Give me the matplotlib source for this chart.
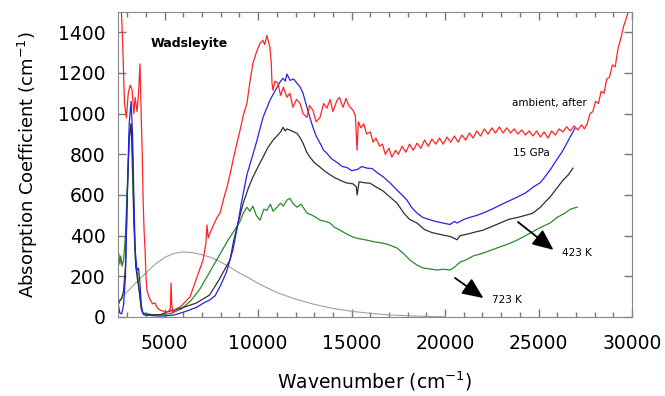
import matplotlib
matplotlib.use("Agg")
import matplotlib.pyplot as plt
from matplotlib.ticker import MultipleLocator

# %% data (wavenumber in cm-1, absorption in cm-1)
red_x = [2600, 2750, 2850, 2950, 3050, 3150, 3250, 3350, 3420, 3520, 3600, 3680, 3740, 3800,
         3850, 3900, 3950, 4000, 4050, 4150, 4250, 4350, 4480, 4600, 4750, 4900, 5050, 5200,
         5300, 5340, 5380, 5440, 5600, 5820, 6000, 6200, 6350, 6550, 6730, 6900, 7050, 7200,
         7260, 7330, 7420, 7600, 7800, 7960, 8150, 8330, 8490, 8700, 9030, 9200, 9400, 9550,
         9720, 9900, 10100, 10250, 10350, 10470, 10560, 10630, 10700, 10740, 10790, 10900,
         11060, 11200, 11350, 11540, 11700, 11860, 12050, 12240, 12400, 12610, 12750, 12930,
         13100, 13310, 13500, 13680, 13850, 14000, 14220, 14350, 14540, 14700, 14850, 15070,
         15200, 15290, 15360, 15500, 15650, 15800, 16000, 16150, 16300, 16500, 16650, 16800,
         17000, 17150, 17350, 17500, 17700, 17900, 18100, 18300, 18500, 18700, 18900, 19100,
         19300, 19500, 19700, 19900, 20100, 20300, 20500, 20700, 20900, 21100, 21300, 21500,
         21700, 21900, 22100, 22300, 22500, 22700, 22900, 23100, 23300, 23500, 23700, 23900,
         24100, 24300, 24500, 24700, 24900, 25100, 25300, 25500, 25700, 25900, 26100, 26300,
         26500, 26700, 26900, 27100, 27300, 27450, 27600, 27750, 27900, 28050, 28200, 28350,
         28500, 28650, 28800, 28950, 29100, 29250, 29400, 29550, 29700, 29850, 30000]
red_y = [1700, 1350, 1050, 980, 1100, 1140, 1120, 1000, 1080, 1010, 1100, 1245, 1000, 800,
         560, 420, 330, 200, 133, 100, 80, 65, 69, 45, 34, 30, 22, 28,
         40, 167, 60, 20, 40, 49, 65, 85, 98, 150, 196, 240, 280, 360,
         452, 390, 412, 450, 490, 511, 580, 638, 700, 790, 918, 990, 1051, 1150,
         1248, 1300, 1346, 1360, 1340, 1385, 1350, 1326, 1248, 1150, 1115, 1160,
         1149, 1090, 1130, 1081, 1100, 1031, 1070, 1051, 1000, 982, 1040, 1017,
         960, 982, 1050, 1027, 1070, 1010, 1066, 1080, 1031, 1075, 1040, 1017,
         990, 820, 960, 930, 950, 900, 910, 860, 880, 840, 850, 800,
         830, 786, 820, 800, 840, 810, 850, 820, 855, 830, 870, 840,
         875, 850, 880, 850, 885, 860, 890, 860, 895, 870, 905, 880,
         915, 890, 925, 900, 930, 905, 935, 905, 930, 905, 925, 900,
         920, 895, 915, 890, 915, 885, 910, 880, 915, 895, 925, 910,
         935, 915, 940, 920, 945, 925, 950, 1000, 1010, 1060, 1050, 1110,
         1100, 1170, 1180, 1240, 1230, 1320, 1370, 1430, 1470, 1520, 1570]

blue_x = [2520, 2600, 2700, 2800, 2900, 3000, 3100, 3200, 3280, 3350, 3420, 3520, 3600, 3680,
          3750, 3820, 3900, 4200, 4600, 5000, 5500, 5800, 6200, 6730, 7100, 7420, 7700, 7960,
          8300, 8650, 8900, 9100, 9400, 9720, 9940, 10260, 10630, 11010, 11200, 11330, 11450,
          11540, 11700, 11900, 12080, 12250, 12400, 12610, 12770, 12930, 13100, 13310, 13500,
          13680, 13900, 14220, 14500, 14750, 15000, 15290, 15550, 15820, 16100, 16360, 16680,
          17050, 17430, 17700, 17960, 18200, 18500, 18800, 19190, 19500, 19890, 20260, 20500,
          20640, 21000, 21330, 21700, 22030, 22500, 22940, 23400, 23850, 24300, 24700, 25080,
          25350, 25610, 25950, 26310, 26600, 26950]
blue_y = [60, 20, 15, 60, 200, 600, 950, 1060, 900, 600, 330, 230, 240, 160,
          60, 20, 10, 8, 5, 5, 10, 18, 30, 49, 70, 84, 105, 150,
          220, 330, 450, 560, 700, 800, 870, 982, 1066, 1130, 1160, 1174, 1160,
          1195, 1164, 1170, 1149, 1130, 1100, 1031, 980, 933, 890, 855, 820,
          805, 780, 760, 740, 735, 720, 725, 740, 732, 730, 710, 690,
          660, 624, 600, 575, 540, 511, 490, 478, 470, 462, 455, 470,
          462, 480, 490, 500, 511, 530, 550, 570, 589, 610, 638, 660,
          690, 722, 770, 820, 870, 928]

black_x = [2500, 2600, 2700, 2800, 2900, 3000, 3100, 3200, 3280, 3350, 3450, 3550, 3650, 3750,
           3850, 4200, 4800, 5120, 5900, 6700, 7400, 7900, 8490, 8700, 8870, 9200, 9500, 9720,
           10000, 10260, 10500, 10790, 11000, 11200, 11330, 11450, 11540, 11800, 12080, 12250,
           12400, 12600, 12770, 13000, 13310, 13600, 13840, 14100, 14380, 14700, 15070, 15250,
           15290, 15400, 15700, 15980, 16300, 16680, 17050, 17430, 17800, 18100, 18500, 18900,
           19300, 19890, 20300, 20640, 20800, 21300, 21700, 22030, 22500, 22940, 23400, 23900,
           24300, 24700, 25100, 25400, 25610, 25950, 26310, 26600, 26840]
black_y = [55, 80, 90, 130, 250, 600, 880, 950, 800, 500, 250, 180, 120, 40,
           15, 10, 12, 25, 44, 69, 108, 182, 280, 380, 442, 560, 640, 688,
           740, 786, 830, 869, 890, 910, 933, 915, 925, 915, 903, 880,
           855, 810, 786, 760, 737, 715, 700, 685, 673, 660, 655, 640,
           600, 665, 660, 658, 640, 620, 590, 560, 510, 480, 462, 430,
           415, 403, 395, 380, 400, 410, 420, 427, 445, 462, 480, 490,
           500, 511, 540, 570, 589, 630, 673, 700, 732]

green_x = [2500, 2550, 2600, 2650, 2720, 2800, 2900, 3000, 3100, 3200, 3280, 3350, 3450, 3550,
           3650, 3750, 3850, 4300, 4900, 5400, 5900, 6400, 6900, 7400, 7900, 8400, 8900, 9030,
           9200, 9400, 9560, 9720, 9900, 10100, 10300, 10470, 10650, 10800, 11010, 11200, 11350,
           11540, 11700, 11850, 12080, 12300, 12610, 12900, 13100, 13310, 13600, 13840, 14100,
           14380, 14700, 15070, 15400, 15820, 16200, 16680, 17000, 17430, 17800, 18120, 18500,
           18820, 19200, 19570, 19900, 20260, 20500, 20800, 21100, 21500, 22030, 22500, 22940,
           23400, 23850, 24300, 24700, 25100, 25610, 26000, 26400, 26700, 27060]
green_y = [245, 310, 260, 300, 250, 280, 400, 650, 880, 950, 700, 450, 250, 210,
           120, 40, 20, 12, 10, 20, 40, 80, 140, 220, 300, 380, 450, 470,
           510, 540, 520, 545, 500, 476, 530, 525, 555, 520, 540, 560, 545,
           575, 584, 560, 540, 555, 511, 500, 490, 476, 470, 462, 440,
           427, 410, 393, 385, 378, 370, 363, 355, 339, 310, 280, 255,
           241, 236, 231, 235, 231, 245, 270, 280, 300, 314, 330, 345,
           360, 378, 400, 420, 440, 462, 490, 510, 530, 540]

band_x = [2500, 3000, 3500, 4000, 4500, 5000, 5500, 6000, 6500, 7000, 7500, 8000, 8500, 9000,
          9500, 10000, 11000, 12000, 13000, 14000, 15000, 16000, 17000, 18000, 19000, 20000]
band_y = [78, 125, 172, 218, 260, 293, 313, 320, 316, 306, 292, 270, 245, 216,
          192, 165, 120, 88, 62, 42, 28, 18, 10, 6, 3, 1]

fig = plt.figure(figsize=(6.65, 3.96), dpi=100)
ax = fig.add_axes([0.1774, 0.1995, 0.773, 0.7702])

ax.plot(band_x, band_y, color="#a0a0a0", lw=0.8)
ax.plot(green_x, green_y, color="#2a8a2a", lw=0.9)
ax.plot(black_x, black_y, color="#303030", lw=0.9)
ax.plot(blue_x, blue_y, color="#2424e6", lw=0.9)
ax.plot(red_x, red_y, color="#ff2424", lw=0.9)

ax.set_xlim(2500, 30000)
ax.set_ylim(0, 1500)
ax.xaxis.set_major_locator(MultipleLocator(5000))
ax.xaxis.set_minor_locator(MultipleLocator(1000))
ax.yaxis.set_major_locator(MultipleLocator(200))
ax.tick_params(which="both", direction="in", top=True, right=True, color="#777777",
               labelsize=13.5)
ax.tick_params(axis="x", which="major", pad=12)
ax.tick_params(axis="y", which="major", pad=9)
ax.tick_params(which="major", length=6, width=1)
ax.tick_params(which="minor", length=3.5, width=1)
for s in ax.spines.values():
    s.set_color("#888888")

ax.set_xlabel("Wavenumber (cm$^{-1}$)", fontsize=13.5, labelpad=12)
ax.set_ylabel("Absorption Coefficient (cm$^{-1}$)", fontsize=13, labelpad=13)

ax.text(4250, 1345, "Wadsleyite", fontsize=9, fontweight="bold", va="center")
ax.text(23580, 1051, "ambient, after", fontsize=7.5, va="center")
ax.text(23630, 805, "15 GPa", fontsize=7.5, va="center")
ax.text(26250, 314, "423 K", fontsize=7.5, va="center")
ax.text(22510, 84, "723 K", fontsize=7.5, va="center")

arrow = dict(arrowstyle="-|>,head_width=0.35,head_length=0.8", color="black", lw=1.3,
             mutation_scale=16, shrinkA=0, shrinkB=0)
ax.annotate("", xy=(25800, 330), xytext=(23900, 467), arrowprops=arrow)
ax.annotate("", xy=(22050, 93), xytext=(20530, 192), arrowprops=arrow)

fig.savefig("out.png", dpi=100)
